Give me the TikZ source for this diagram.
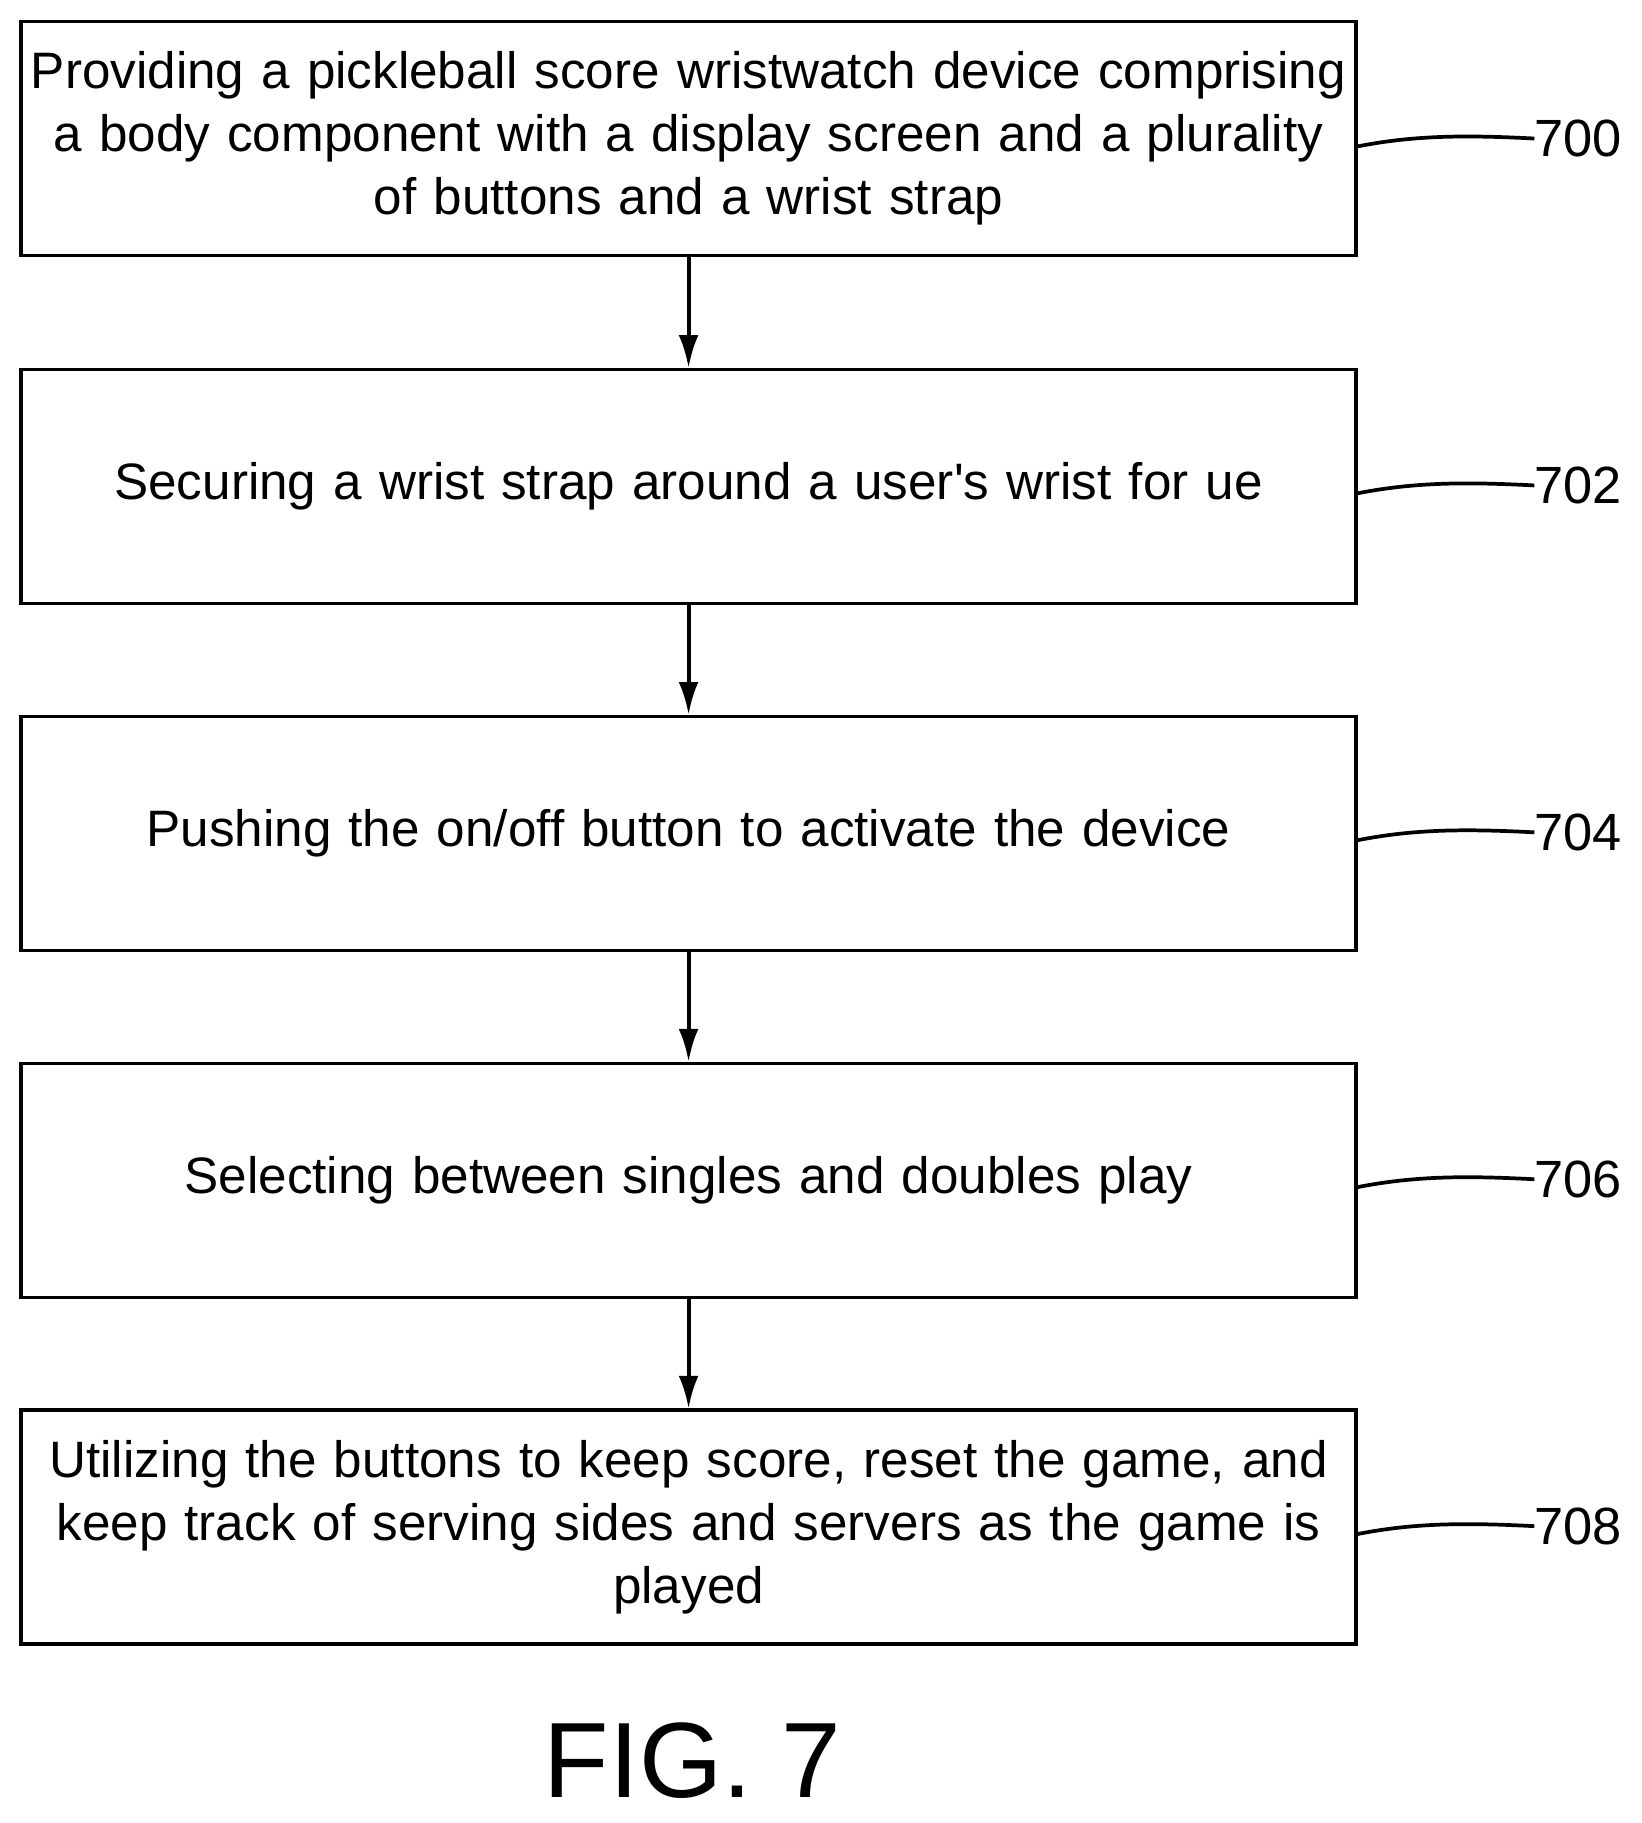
\documentclass[tikz,border=0pt]{standalone}
\usepackage{fontspec}
\setmainfont{Liberation Sans}
\usetikzlibrary{arrows.meta}
\begin{document}
\begin{tikzpicture}[x=1pt,y=-1pt,
  box/.style={draw,line width=3.2pt,minimum width=1147pt,minimum height=201pt,align=center,text width=1145pt,font=\fontsize{44}{54}\selectfont,inner sep=0pt},
  arr/.style={line width=3.4pt,-{Latex[length=28pt,width=17pt]}},
  lead/.style={line width=3.2pt},
  lab/.style={font=\fontsize{45}{50}\selectfont,anchor=west,inner sep=0pt}]
\useasboundingbox (0,0) rectangle (1410,1566);
\node[box] (b0) at (591.5,119) {\raisebox{-4pt}{\parbox{1145pt}{\centering Providing a pickleball score wristwatch device comprising\\ a body component with a display screen and a plurality\\ of buttons and a wrist strap}}};
\node[box] (b1) at (591.5,418) {Securing a wrist strap around a user\textquotesingle s wrist for ue};
\node[box] (b2) at (591.5,716) {Pushing the on/off button to activate the device};
\node[box] (b3) at (591.5,1014) {Selecting between singles and doubles play};
\node[box] (b4) at (591.5,1312) {Utilizing the buttons to keep score, reset the game, and\\ keep track of serving sides and servers as the game is\\ played};
\foreach \a/\b in {b0/b1,b1/b2,b2/b3,b3/b4} \draw[arr] (\a.south) -- (\b.north);
\foreach \n/\t in {0/700,1/702,2/704,3/706,4/708}{
  \node[lab] (l\n) at (1318,{119+298*\n}) {\t};
  \coordinate (s\n) at (1165,{126+298*\n});
  \draw[lead] (s\n) .. controls (1215,{116+298*\n}) and (1260,{116+298*\n}) .. (l\n.west);
}
\node[font=\fontsize{92}{100}\selectfont] (fig) at (595,1512) {FIG. 7};
\end{tikzpicture}
\end{document}
